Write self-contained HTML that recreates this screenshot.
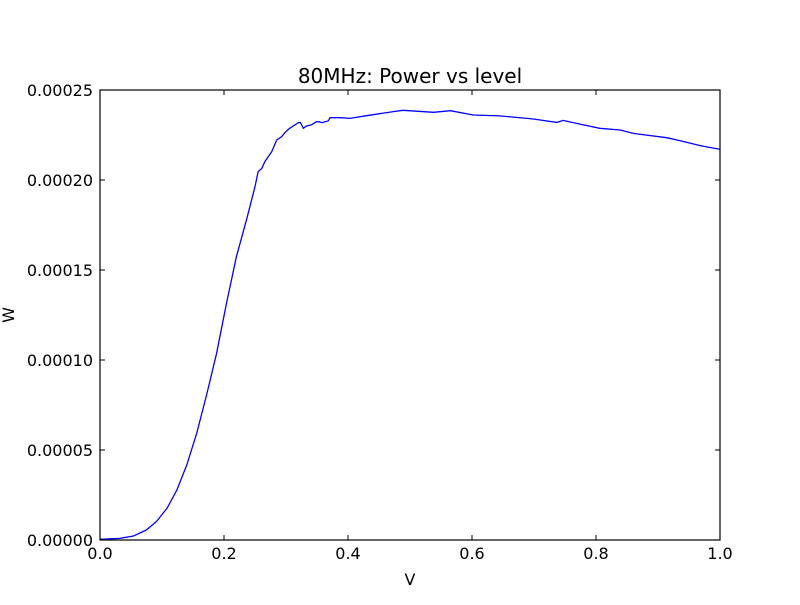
<!DOCTYPE html>
<html><head><meta charset="utf-8"><style>
body{margin:0;background:#fff;}
svg text{font-family:"DejaVu Sans","Liberation Sans",sans-serif;}
</style></head><body>
<svg id="chart" width="800" height="600" xmlns="http://www.w3.org/2000/svg">
<rect width="800" height="600" fill="#fff"/>
<text x="410" y="83" font-size="20" text-anchor="middle">80MHz: Power vs level</text>
<text x="410" y="585" font-size="16" text-anchor="middle">V</text>
<text x="14" y="315" font-size="16" text-anchor="middle" transform="rotate(-90 14 315)">W</text>
<g id="ticks"></g>
<polyline id="line" fill="none" stroke="#0000ff" stroke-width="1.3"/>
<rect x="100" y="90" width="620" height="450" fill="none" stroke="#000" stroke-width="1.2"/>
</svg>
<script>
const xs=[0,.032,.054,.075,.091,.108,.124,.140,.156,.172,.188,.204,.220,.237,.250,.255,.261,.266,.277,.285,.293,.298,.306,.320,.323,.328,.333,.341,.349,.352,.358,.368,.371,.374,.387,.403,.430,.473,.489,.538,.565,.602,.645,.699,.737,.747,.780,.806,.839,.860,.914,.935,.968,.997,1.0];
const ys=[0.004,0.009,0.022,0.056,0.102,0.176,0.278,0.417,0.593,0.806,1.037,1.315,1.574,1.787,1.963,2.046,2.065,2.102,2.157,2.222,2.241,2.263,2.287,2.319,2.320,2.287,2.300,2.306,2.324,2.324,2.319,2.328,2.346,2.346,2.346,2.342,2.357,2.380,2.387,2.376,2.385,2.361,2.356,2.339,2.320,2.331,2.306,2.287,2.278,2.259,2.235,2.219,2.191,2.172,2.170];
const xTicks=[0,0.2,0.4,0.6,0.8,1.0];
const xTickLabels=["0.0","0.2","0.4","0.6","0.8","1.0"];
const yTicks=[0,0.5,1,1.5,2,2.5];
const yTickLabels=["0.00000","0.00005","0.00010","0.00015","0.00020","0.00025"];
const X=v=>100+v*620, Y=v=>540-v/2.5*450;
const NS="http://www.w3.org/2000/svg";
const g=document.getElementById('ticks');
function mk(tag,attrs){const e=document.createElementNS(NS,tag);for(const k in attrs)e.setAttribute(k,attrs[k]);g.appendChild(e);return e;}
xTicks.forEach((t,i)=>{const x=X(t);
 const a=mk('line',{x1:x,x2:x,y1:540,y2:535,stroke:'#000'});
 
 
 const b=mk('line',{x1:x,x2:x,y1:90,y2:95,stroke:'#000'});
 
 
 const tx=mk('text',{x:x,y:559,'font-size':16,'text-anchor':'middle'});tx.textContent=xTickLabels[i];
 
 
});
yTicks.forEach((t,i)=>{const y=Y(t);
 const a=mk('line',{x1:100,x2:105,y1:y,y2:y,stroke:'#000'});
 
 
 const b=mk('line',{x1:715,x2:720,y1:y,y2:y,stroke:'#000'});
 
 
 const tx=mk('text',{x:93,y:y+6,'font-size':16,'text-anchor':'end'});tx.textContent=yTickLabels[i];
 
 
});
document.getElementById('line').setAttribute('points',xs.map((x,i)=>X(x).toFixed(1)+','+Y(ys[i]).toFixed(1)).join(' '));
</script>
</body></html>
